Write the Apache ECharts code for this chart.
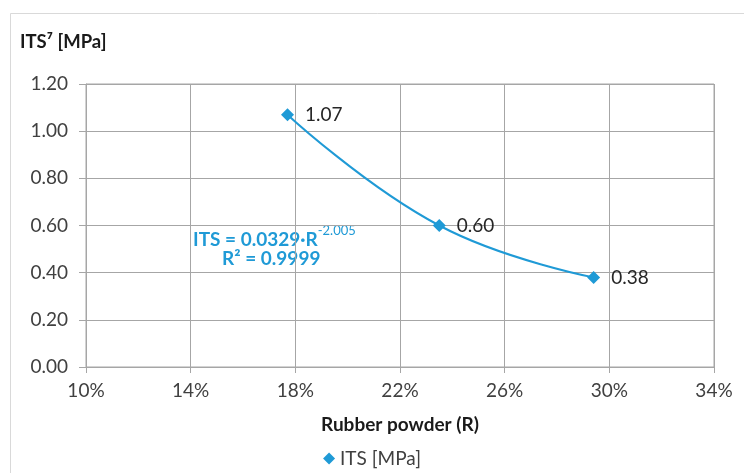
<!DOCTYPE html>
<html>
<head>
<meta charset="utf-8">
<script src="https://cdn.jsdelivr.net/npm/echarts@6/dist/echarts.min.js"></script>
<style>
html,body{margin:0;padding:0;background:#fff;}
#chart{width:744px;height:473px;}
</style>
</head>
<body>
<div id="chart"></div>
<script>
// Data
const rubberPct = [17.7, 23.5, 29.4];      // Rubber powder (R), %
const itsValues = [1.07, 0.60, 0.38];      // ITS [MPa]
const itsLabels = ['1.07', '0.60', '0.38'];
const xTicks = [10, 14, 18, 22, 26, 30, 34];
const yTicks = [0, 0.2, 0.4, 0.6, 0.8, 1.0, 1.2];

const seriesData = rubberPct.map((r, i) => [r, itsValues[i]]);
const FONT = 'Lato, "Open Sans", sans-serif';
const BLUE = '#1f9ad6';

const chart = echarts.init(document.getElementById('chart'));
chart.setOption({
  animation: false,
  backgroundColor: '#fff',
  textStyle: { fontFamily: FONT },
  grid: { left: 86, right: 30, top: 84, bottom: 106, show: true, borderColor: '#a6a6a6', borderWidth: 1 },
  xAxis: {
    type: 'value',
    min: xTicks[0], max: xTicks[xTicks.length - 1], interval: 4,
    name: 'Rubber powder (R)', nameLocation: 'middle', nameGap: 48,
    nameTextStyle: { fontFamily: FONT, fontWeight: 'bold', fontSize: 19, color: '#1a1a1a' },
    axisLine: { show: true, lineStyle: { color: '#a6a6a6' } },
    axisTick: { show: true, inside: false, length: 6, lineStyle: { color: '#a6a6a6' } },
    axisLabel: { fontFamily: FONT, fontSize: 19, color: '#404040', margin: 14, formatter: v => v + '%' },
    splitLine: { show: true, lineStyle: { color: '#a6a6a6' } }
  },
  yAxis: {
    type: 'value',
    min: yTicks[0], max: yTicks[yTicks.length - 1], interval: 0.2,
    axisLine: { show: true, lineStyle: { color: '#a6a6a6' } },
    axisTick: { show: true, inside: false, length: 7, lineStyle: { color: '#a6a6a6' } },
    axisLabel: { fontFamily: FONT, fontSize: 19, color: '#404040', margin: 18, formatter: v => v.toFixed(2) },
    splitLine: { show: true, lineStyle: { color: '#a6a6a6' } }
  },
  legend: {
    bottom: 0, left: 'center',
    itemWidth: 12, itemHeight: 12, itemGap: 4,
    icon: 'diamond',
    textStyle: { fontFamily: FONT, fontSize: 19, color: '#404040' },
    data: [{ name: 'ITS [MPa]', icon: 'diamond', itemStyle: { color: BLUE } }]
  },
  series: [{
    name: 'ITS [MPa]',
    type: 'line',
    smooth: 0.45,
    data: seriesData,
    symbol: 'diamond',
    symbolSize: 13,
    itemStyle: { color: BLUE },
    lineStyle: { color: BLUE, width: 2 },
    label: {
      show: true, position: 'right', distance: 11,
      fontFamily: FONT, fontSize: 19, color: '#262626',
      formatter: p => itsLabels[p.dataIndex]
    }
  }],
  graphic: [
    { type: 'rect', shape: { x: 10.5, y: 13.5, width: 800, height: 600 }, style: { fill: 'none', stroke: '#d9d9d9', lineWidth: 1 }, silent: true, z: -10 },
    { type: 'text', left: 20, top: 33, style: { text: 'ITS⁷ [MPa]', font: 'bold 18.5px ' + FONT, fill: '#1a1a1a' } },
    { type: 'text', left: 193, top: 224, style: {
        text: '{a|ITS = 0.0329·R}{s|-2.005}',
        rich: {
          a: { font: 'bold 19px ' + FONT, fill: BLUE, verticalAlign: 'bottom' },
          s: { font: '13px ' + FONT, fill: BLUE, verticalAlign: 'top', padding: [0, 0, 12, 0] }
        }
      } },
    { type: 'text', left: 222, top: 249, style: { text: 'R² = 0.9999', font: 'bold 19px ' + FONT, fill: BLUE } }
  ]
});
</script>
</body>
</html>
